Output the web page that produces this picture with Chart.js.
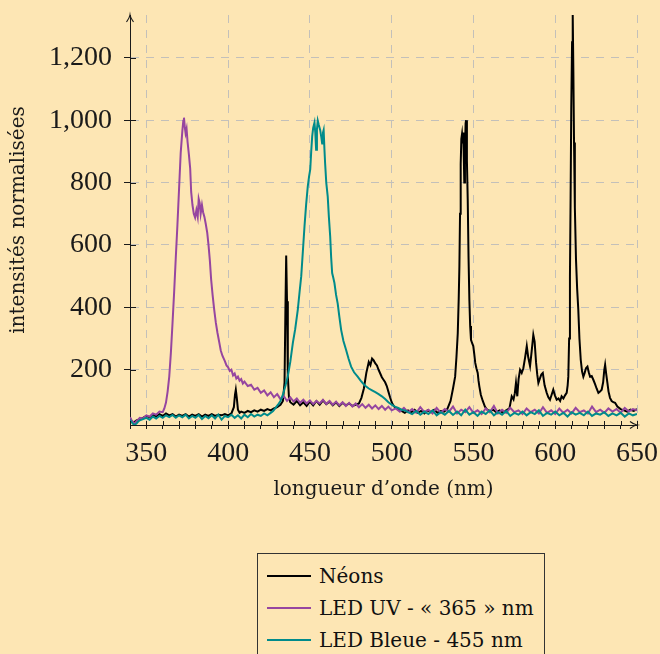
<!DOCTYPE html>
<html>
<head>
<meta charset="utf-8">
<script src="https://cdn.jsdelivr.net/npm/chart.js@4.4.1/dist/chart.umd.min.js"></script>
<style>
  html, body { margin: 0; padding: 0; background: #fde6b4; width: 660px; height: 654px; overflow: hidden; }
  #wrap { position: relative; width: 660px; height: 654px; }
  #chart { position: absolute; left: 0; top: 0; }
  #legend { position: absolute; left: 257px; top: 553px; width: 286px; height: 120px; border: 1px solid #333; font-family: 'DejaVu Serif', serif; font-size: 20px; color: #111; }
  .row { height: 32px; display: flex; align-items: center; }
  .row:first-child { margin-top: 6px; }
  .sw { width: 44px; height: 2px; margin: 0 8px 0 9px; }
</style>
</head>
<body>
<div id="wrap">
  <canvas id="chart" width="660" height="510"></canvas>
  <div id="legend"></div>
</div>
<script>
// Spectra (wavelength nm -> normalised intensity)
const INK = '#1a1a1a', GRID = '#c3c0ba';
const BLACK = '#000000', PURPLE = '#9646a0', TEAL = '#008b8b';
const SERIF = "'Liberation Serif', 'Times New Roman', serif";
const TITLE_FONT = "'DejaVu Serif', serif";

const labels = ['Néons', 'LED UV - « 365 » nm', 'LED Bleue - 455 nm'];

const neonNm = [340,341,342,344,346,348,350,352,354,356,358,360,362,364,366,368,370,372,374,376,378,380,382,384,386,388,390,392,394,396,398,400,402,403.5,404.2,404.7,405.3,406,407,408,410,412,414,416,418,420,422,424,426,428,430,432,433.5,434.5,435,435.5,436,436.5,437.2,438,440,442,444,446,448,450,452,454,456,458,460,462,464,466,468,470,472,474,476,478,480,481.5,483,484.5,486,487,488,489,490,491,492,493,494,495,496,497,498,499,500,501,502,504,506,508,510,512,514,516,518,520,522,524,526,528,530,532,534,536,537.5,538.8,539.6,540.4,541,541.4,541.8,542.2,542.6,543,543.4,543.8,544.1,544.4,544.8,545.2,545.5,546,546.5,547,547.5,548,548.5,549.2,549.9,550.5,551.1,551.8,552.6,553.1,553.6,554.5,555.7,557,558,560,562,564,566,568,570,572,573.4,574.5,575.3,576,576.8,577.6,578.5,579.5,580.5,581.6,582.6,583.5,584.6,585.6,586.6,587.4,588.3,589,589.7,590.5,591.5,592.4,593.5,594.8,595.8,596.8,597.8,598.8,599.8,600.9,602,603,603.9,605,606,607,607.6,608,608.5,609,609.4,609.8,610.3,610.7,611.1,611.5,612,612.7,613.4,614.1,614.8,615.6,616.4,617.2,618,618.8,619.7,620.5,621.3,622.3,623.3,624.3,625.3,626.4,627.4,628.4,629.3,630,630.5,631.2,631.9,632.6,633.5,634.5,635.5,636.6,638,640,642,644,646,648,650];
const neonVal = [44,36,30,38,42,46,52,48,56,50,58,52,60,54,58,50,56,52,58,50,56,52,58,50,56,52,58,52,56,54,58,54,60,80,120,136,110,72,62,66,62,68,64,70,66,72,68,74,70,76,80,88,100,160,380,566,420,180,110,96,88,100,86,96,84,98,86,100,88,102,90,98,86,96,84,94,86,92,84,88,92,110,140,190,225,215,236,230,220,214,200,188,176,168,160,148,130,112,96,86,80,72,68,62,70,64,72,62,68,60,70,64,72,62,68,66,74,100,140,178,240,316,430,530,700,860,940,955,925,960,880,800,900,990,1000,870,746,560,425,340,296,285,276,250,222,205,190,165,147,120,100,82,74,66,72,64,70,62,70,76,115,105,125,158,115,170,200,190,205,240,276,240,212,260,312,290,222,185,158,170,185,190,150,126,112,104,120,136,118,104,108,100,115,108,118,126,150,178,300,500,750,1035,1250,1337,1150,928,720,553,460,393,300,232,195,178,190,205,210,192,178,180,168,155,140,126,130,136,160,200,216,185,158,130,110,100,96,94,82,74,70,66,72,68,74];

const uvNm = [340,341,342,343,344,345,346,348,350,352,354,356,358,360,361,362,363,364,365,366,367,368,369,370,371,372,372.6,373,373.5,374,374.6,375.2,376,376.8,377.4,378.2,379,379.8,380.6,381.4,382,382.6,383.2,384,384.7,385.5,386.3,387.2,388,388.8,389.6,390.5,391.5,392.5,393.5,394.5,395.5,396.5,398,399,400,401,402,403,404,405,406,407,408,409,410,412,414,416,418,420,422,424,426,428,430,432,434,436,438,440,442,444,446,448,450,452,454,456,458,460,462,464,466,468,470,472,474,476,478,480,482,484,486,488,490,492,494,496,498,500,502.5,505,507.5,510,512.5,515,517.5,520,522.5,525,527.5,530,532.5,535,537.5,540,542.5,545,547.5,550,552.5,555,557.5,560,562.5,565,567.5,570,572.5,575,577.5,580,582.5,585,587.5,590,592.5,595,597.5,600,602.5,605,607.5,610,612.5,615,617.5,620,622.5,625,627.5,630,632.5,635,637.5,640,642.5,645,647.5,650];
const uvVal = [48,38,32,28,36,40,46,44,54,50,60,56,66,64,76,95,130,178,255,350,450,560,665,780,895,965,998,1008,978,958,972,930,890,845,770,728,700,688,712,690,748,735,700,728,705,690,668,640,600,552,490,440,392,350,318,290,262,245,228,214,208,196,200,182,188,172,178,165,170,156,162,148,152,136,142,126,134,118,128,112,122,106,116,100,112,98,108,94,104,92,102,90,100,92,104,90,100,88,98,86,96,84,94,82,92,80,90,78,88,76,86,74,84,72,82,70,76,66,78,64,74,62,80,64,72,60,78,62,74,66,82,60,72,64,80,62,70,58,76,64,84,60,72,62,78,64,70,58,76,64,72,60,80,62,70,58,76,62,72,60,78,64,70,60,82,64,72,62,76,66,74,62,78,66,74,70];

const blueNm = [340,341,342,343,344,345,346,348,350,352,354,356,358,360,362,364,366,368,370,372,374,376,378,380,382,384,386,388,390,392,394,396,398,400,402,404,406,408,410,412,414,416,418,420,422,424,426,427.5,429,430.5,432,433.5,435,436.5,438,439.6,441,442.6,443.7,444.7,445.7,446.7,447.7,448.7,449.5,450.2,450.8,451.4,452,452.8,453.3,453.8,454.3,454.8,455.4,456.3,457,457.5,458,458.4,458.9,459.3,460,460.9,461.6,462.4,463,463.6,464.3,465,466,467,468,469.1,470.5,472.1,473.6,475.2,477,479.2,481,482.5,484,486,488,490,492,494,496,498,500,502,504,506,508,510,512.5,515,517.5,520,522.5,525,527.5,530,532.5,535,537.5,540,542.5,545,547.5,550,552.5,555,557.5,560,562.5,565,567.5,570,572.5,575,577.5,580,582.5,585,587.5,590,592.5,595,597.5,600,602.5,605,607.5,610,612.5,615,617.5,620,622.5,625,627.5,630,632.5,635,637.5,640,642.5,645,647.5,650];
const blueVal = [40,32,26,24,28,34,38,42,46,40,50,44,52,46,54,48,55,46,54,48,56,44,52,46,55,42,52,45,54,44,56,40,52,48,56,46,54,44,56,48,58,50,56,52,60,54,62,68,78,88,100,120,148,180,225,287,330,393,450,500,580,660,730,788,820,842,900,948,975,992,960,905,970,998,985,968,945,925,960,968,905,862,800,755,690,628,560,510,495,478,440,412,370,328,292,264,236,210,192,178,165,156,148,140,134,128,122,115,106,96,88,82,78,72,70,64,58,68,56,66,58,70,54,64,56,68,55,66,54,72,56,64,52,66,58,70,54,64,56,68,52,62,56,66,54,64,58,70,52,62,56,66,54,62,50,64,56,62,54,66,52,60,56,64,52,60,54,62,50,60,54,58];

const pts = (xs, ys) => xs.map((x, i) => ({ x, y: ys[i] }));

const datasets = [
  { label: labels[0], data: pts(neonNm, neonVal), borderColor: BLACK, order: 3 },
  { label: labels[1], data: pts(uvNm, uvVal), borderColor: PURPLE, order: 2 },
  { label: labels[2], data: pts(blueNm, blueVal), borderColor: TEAL, order: 1 }
];

// arrow tips + tick marks that cross into the plot (pgfplots style)
const axisDecor = {
  id: 'axisDecor',
  afterDraw(chart) {
    const { ctx, chartArea: a, scales: { x, y } } = chart;
    ctx.save();
    ctx.strokeStyle = INK; ctx.lineWidth = 1;
    ctx.beginPath();
    x.ticks.forEach((t) => { const px = Math.round(x.getPixelForValue(t.value)) + 0.5; ctx.moveTo(px, a.bottom); ctx.lineTo(px, a.bottom - 4); });
    y.ticks.forEach((t) => { const py = Math.round(y.getPixelForValue(t.value)) + 0.5; ctx.moveTo(a.left, py); ctx.lineTo(a.left + 6, py); });
    ctx.stroke();
    ctx.lineWidth = 1.2;
    ctx.beginPath();
    ctx.moveTo(a.left - 3.5, a.top + 7); ctx.quadraticCurveTo(a.left - 0.5, a.top + 3, a.left, a.top);
    ctx.quadraticCurveTo(a.left + 0.5, a.top + 3, a.left + 3.5, a.top + 7);
    ctx.moveTo(a.right - 7, a.bottom - 3.5); ctx.quadraticCurveTo(a.right - 3, a.bottom - 0.5, a.right, a.bottom);
    ctx.quadraticCurveTo(a.right - 3, a.bottom + 0.5, a.right - 7, a.bottom + 3.5);
    ctx.stroke();
    ctx.restore();
  }
};

new Chart(document.getElementById('chart').getContext('2d'), {
  type: 'line',
  data: { datasets },
  options: {
    responsive: false, animation: false, parsing: true,
    layout: { padding: { top: 15, right: 23, left: 0, bottom: 0 } },
    elements: { point: { radius: 0 }, line: { borderWidth: 2, tension: 0, fill: false } },
    plugins: { legend: { display: false }, tooltip: { enabled: false } },
    scales: {
      x: {
        type: 'linear', min: 340, max: 650,
        // fixed axis box; no extra room reserved for the edge labels
        afterFit: (s) => { s.height = 85; s.paddingLeft = 0; s.paddingRight = 0; },
        grid: {
          color: (c) => (c.tick && c.tick.value % 50 === 0) ? GRID : 'rgba(0,0,0,0)',
          tickColor: INK, tickLength: 4, lineWidth: 1
        },
        border: { display: true, color: INK, width: 1, dash: [8, 7] },
        ticks: {
          stepSize: 10, autoSkip: false, maxRotation: 0, padding: 8, color: INK,
          font: { family: SERIF, size: 28 },
          callback: (v) => (v % 50 === 0 ? String(v) : '')
        },
        title: { display: true, text: 'longueur d’onde (nm)', color: INK, font: { family: TITLE_FONT, size: 20 }, padding: { top: 0, bottom: 8 } }
      },
      y: {
        type: 'linear', min: 23, max: 1337,
        afterFit: (s) => { s.width = 130; s.paddingTop = 0; s.paddingBottom = 0; },
        grid: { color: GRID, tickColor: INK, tickLength: 6, lineWidth: 1 },
        border: { display: true, color: INK, width: 1, dash: [8, 7] },
        ticks: {
          stepSize: 200, includeBounds: false, padding: 12, color: INK,
          font: { family: SERIF, size: 28 },
          callback: (v) => v.toLocaleString('en-US')
        },
        title: { display: true, text: 'intensités normalisées', color: INK, font: { family: TITLE_FONT, size: 20 }, padding: { top: 7, bottom: 0 } }
      }
    }
  },
  plugins: [axisDecor]
});

// legend box below the chart, in dataset order
const legend = document.getElementById('legend');
datasets.forEach((d) => {
  const row = document.createElement('div');
  row.className = 'row';
  row.innerHTML = `<span class="sw" style="background:${d.borderColor}"></span><span>${d.label}</span>`;
  legend.appendChild(row);
});
</script>
</body>
</html>
